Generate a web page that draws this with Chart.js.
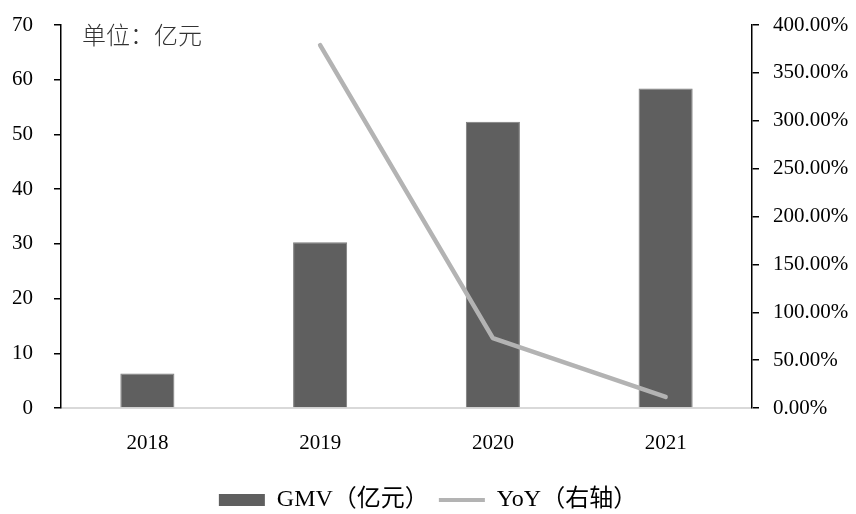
<!DOCTYPE html>
<html>
<head>
<meta charset="utf-8">
<script src="https://cdn.jsdelivr.net/npm/chart.js@4.4.1/dist/chart.umd.min.js"></script>
<style>
  html, body { margin: 0; padding: 0; background: #fff; }
  #wrap { width: 856px; height: 514px; position: relative; }
</style>
</head>
<body>
<div id="wrap"><canvas id="c" width="856" height="514"></canvas></div>
<script>
// GMV by year (亿元) and year-over-year growth (%)
const years = ['2018', '2019', '2020', '2021'];
const gmv = [6.3, 30.3, 52.3, 58.4];
const yoy = [null, 379, 73, 11.5];
const gmvTicks = { min: 0, max: 70, step: 10 };
const yoyTicks = { min: 0, max: 400, step: 50 };
const unitLabel = '单位：亿元';
const legendNames = ['GMV（亿元）', 'YoY（右轴）'];

const FONT = '"Liberation Serif", "Times New Roman", "Noto Sans CJK SC", serif';
const BAR_COLOR = '#5f5f5f';
const LINE_COLOR = '#b3b3b3';

// unit caption in the upper-left corner of the plot
const unitCaption = {
  id: 'unitCaption',
  afterDraw(chart) {
    const ctx = chart.ctx;
    ctx.save();
    ctx.font = '300 24px "Noto Sans CJK SC", sans-serif';
    ctx.fillStyle = '#333';
    ctx.textBaseline = 'middle';
    ctx.textAlign = 'left';
    ctx.fillText(unitLabel, chart.chartArea.left + 21, 35);
    ctx.restore();
  }
};

// vertical axes: fixed width, no extra room for the half-height end labels
const fixVertical = width => scale => {
  scale.width = width;
  scale.paddingTop = 0;
  scale.paddingBottom = 0;
};

new Chart(document.getElementById('c'), {
  data: {
    labels: years,
    datasets: [
      {
        type: 'bar',
        label: legendNames[0],
        data: gmv,
        yAxisID: 'y',
        backgroundColor: BAR_COLOR,
        borderColor: '#7c7c7c',
        borderWidth: 1,
        barPercentage: 0.313,
        categoryPercentage: 1,
        order: 1
      },
      {
        type: 'line',
        label: legendNames[1],
        data: yoy,
        yAxisID: 'y1',
        borderColor: LINE_COLOR,
        backgroundColor: LINE_COLOR,
        borderWidth: 4.5,
        borderCapStyle: 'round',
        borderJoinStyle: 'round',
        pointRadius: 0,
        tension: 0,
        order: 0
      }
    ]
  },
  options: {
    responsive: false,
    animation: false,
    devicePixelRatio: 1,
    layout: { padding: { top: 25, left: 0, right: 0, bottom: -8 } },
    plugins: {
      tooltip: { enabled: false },
      legend: {
        position: 'bottom',
        labels: {
          font: { family: FONT, size: 24 },
          color: '#000',
          usePointStyle: true,
          pointStyleWidth: 46,
          boxHeight: 12,
          padding: 10,
          generateLabels() {
            return [
              { text: legendNames[0], pointStyle: 'rect', fillStyle: BAR_COLOR, strokeStyle: BAR_COLOR, lineWidth: 0, datasetIndex: 0 },
              { text: legendNames[1], pointStyle: 'line', fillStyle: LINE_COLOR, strokeStyle: LINE_COLOR, lineWidth: 4, datasetIndex: 1 }
            ];
          }
        }
      }
    },
    scales: {
      x: {
        offset: true,
        grid: { display: false },
        border: { display: true, color: '#d9d9d9', width: 2 },
        ticks: { font: { family: FONT, size: 21 }, color: '#000', padding: 15 },
        afterFit(scale) { scale.height = 70; }
      },
      y: {
        position: 'left',
        min: gmvTicks.min,
        max: gmvTicks.max,
        grid: { drawOnChartArea: false, drawTicks: true, tickLength: 7, color: '#000', lineWidth: 1.5 },
        border: { display: true, color: '#000', width: 1.5 },
        ticks: { stepSize: gmvTicks.step, font: { family: FONT, size: 21 }, color: '#000', padding: 21 },
        afterFit: fixVertical(61)
      },
      y1: {
        position: 'right',
        min: yoyTicks.min,
        max: yoyTicks.max,
        grid: { drawOnChartArea: false, drawTicks: true, tickLength: 7, color: '#000', lineWidth: 1.5 },
        border: { display: true, color: '#000', width: 1.5 },
        ticks: {
          stepSize: yoyTicks.step,
          font: { family: FONT, size: 21 },
          color: '#000',
          padding: 14,
          callback: v => v.toFixed(2) + '%'
        },
        afterFit: fixVertical(104)
      }
    }
  },
  plugins: [unitCaption]
});
</script>
</body>
</html>
